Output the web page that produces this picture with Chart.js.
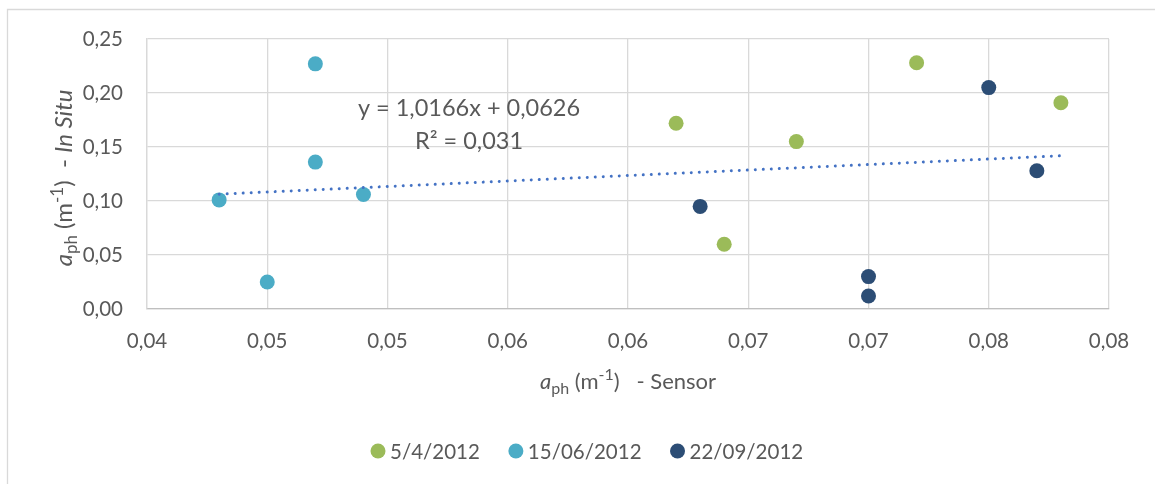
<!DOCTYPE html>
<html>
<head>
<meta charset="utf-8">
<script src="https://cdn.jsdelivr.net/npm/chart.js@4.4.1/dist/chart.umd.min.js"></script>
<style>
  html, body { margin: 0; padding: 0; background: #ffffff; }
  #wrap { width: 1155px; height: 484px; }
</style>
</head>
<body>
<div id="wrap"><canvas id="c" width="1155" height="484"></canvas></div>
<script>
// ---- data ----
const seriesNames = ['5/4/2012', '15/06/2012', '22/09/2012'];
const seriesColors = ['#9BBB59', '#4BACC6', '#2C4D75'];

const x_0504 = [0.062, 0.067, 0.064, 0.072, 0.078];
const y_0504 = [0.172, 0.155, 0.060, 0.228, 0.191];

const x_1506 = [0.043, 0.047, 0.047, 0.045, 0.049];
const y_1506 = [0.101, 0.227, 0.136, 0.025, 0.106];

const x_2209 = [0.063, 0.070, 0.070, 0.075, 0.077];
const y_2209 = [0.095, 0.030, 0.012, 0.205, 0.128];

const trendSlope = 1.0166;
const trendIntercept = 0.0626;
const trendXRange = [0.043, 0.078];
const equationText = 'y = 1,0166x + 0,0626';
const r2Text = 'R² = 0,031';

const xTickValues = [0.04, 0.045, 0.05, 0.055, 0.06, 0.065, 0.07, 0.075, 0.08];
const xTickLabels = ['0,04', '0,05', '0,05', '0,06', '0,06', '0,07', '0,07', '0,08', '0,08'];
const yTickValues = [0, 0.05, 0.10, 0.15, 0.20, 0.25];
const yTickLabels = ['0,00', '0,05', '0,10', '0,15', '0,20', '0,25'];

// ---- helpers ----
const FONT = 'Lato, "Open Sans", sans-serif';
const TXT = '#595959';
const pts = (xs, ys) => xs.map((x, i) => ({ x: x, y: ys[i] }));

const trendData = trendXRange.map(x => ({ x: x, y: trendSlope * x + trendIntercept }));

function setFont(ctx, p, big, small) {
  const size = (p.sub || p.sup) ? small : big;
  ctx.font = (p.italic ? 'italic ' : '') + size + 'px ' + FONT;
}
function drawRich(ctx, parts, x, y, big, small) {
  let cx = x;
  for (const p of parts) {
    setFont(ctx, p, big, small);
    const dy = p.sub ? 5 : (p.sup ? -9 : 0);
    ctx.fillText(p.t, cx, y + dy);
    cx += ctx.measureText(p.t).width;
  }
  return cx - x;
}
function richWidth(ctx, parts, big, small) {
  let w = 0;
  for (const p of parts) {
    setFont(ctx, p, big, small);
    w += ctx.measureText(p.t).width;
  }
  return w;
}

const yTitleParts = [
  { t: 'a', italic: true }, { t: 'ph', sub: true }, { t: ' (m' }, { t: '-1', sup: true },
  { t: ')  - ' }, { t: 'In Situ', italic: true }
];
const xTitleParts = [
  { t: 'a', italic: true }, { t: 'ph', sub: true }, { t: ' (m' }, { t: '-1', sup: true },
  { t: ')   - Sensor' }
];

const decorPlugin = {
  id: 'decor',
  beforeDraw(chart) {
    const ctx = chart.ctx;
    ctx.save();
    ctx.fillStyle = '#ffffff';
    ctx.fillRect(0, 0, chart.width, chart.height);
    ctx.strokeStyle = '#d9d9d9';
    ctx.lineWidth = 1.3;
    ctx.beginPath();
    ctx.moveTo(7.5, chart.height);
    ctx.lineTo(7.5, 9.5);
    ctx.lineTo(chart.width, 9.5);
    ctx.stroke();
    ctx.restore();
  },
  afterDraw(chart) {
    const ctx = chart.ctx;
    const a = chart.chartArea;
    ctx.save();
    ctx.fillStyle = TXT;
    ctx.textBaseline = 'alphabetic';

    // equation
    ctx.font = '23.5px ' + FONT;
    ctx.textAlign = 'center';
    const ex = a.left + 322;
    ctx.fillText(equationText, ex, a.top + 77);
    ctx.fillText(r2Text, ex, a.top + 110);
    ctx.textAlign = 'left';

    // x title
    const xw = richWidth(ctx, xTitleParts, 22, 16);
    drawRich(ctx, xTitleParts, (a.left + a.right) / 2 - xw / 2, 389, 22, 16);

    // y title (rotated)
    const yw = richWidth(ctx, yTitleParts, 24, 17);
    ctx.save();
    ctx.translate(72, (a.top + a.bottom) / 2 + 4);
    ctx.rotate(-Math.PI / 2);
    drawRich(ctx, yTitleParts, -yw / 2, 0, 24, 17);
    ctx.restore();

    // legend
    ctx.font = '20.5px ' + FONT;
    ctx.textBaseline = 'middle';
    let lx = 370;
    const ly = 451;
    chart.data.datasets.forEach(ds => {
      if (!ds.inLegend) return;
      ctx.fillStyle = ds.backgroundColor;
      ctx.beginPath();
      ctx.arc(lx + 8, ly, 7.5, 0, Math.PI * 2);
      ctx.fill();
      ctx.fillStyle = TXT;
      ctx.fillText(ds.label, lx + 20, ly + 1);
      lx += 20 + ctx.measureText(ds.label).width + 28;
    });
    ctx.restore();
  }
};

const scatterDs = (i, xs, ys) => ({
  type: 'scatter',
  label: seriesNames[i],
  data: pts(xs, ys),
  backgroundColor: seriesColors[i],
  borderColor: seriesColors[i],
  borderWidth: 0,
  pointRadius: 7.5,
  pointHoverRadius: 7.5,
  inLegend: true,
  order: 1
});

new Chart(document.getElementById('c'), {
  type: 'scatter',
  data: {
    datasets: [
      scatterDs(0, x_0504, y_0504),
      scatterDs(1, x_1506, y_1506),
      scatterDs(2, x_2209, y_2209),
      {
        type: 'line',
        label: 'trend',
        data: trendData,
        borderColor: '#4472C4',
        borderWidth: 3,
        borderDash: [0.01, 8],
        borderCapStyle: 'round',
        pointRadius: 0,
        fill: false,
        showLine: true,
        inLegend: false,
        order: 0
      }
    ]
  },
  options: {
    responsive: false,
    animation: false,
    events: [],
    layout: { padding: { left: 0, top: 39, right: 46, bottom: 0 } },
    plugins: {
      legend: { display: false },
      tooltip: { enabled: false },
      title: { display: false }
    },
    scales: {
      x: {
        type: 'linear',
        min: 0.04, max: 0.08,
        afterBuildTicks: s => { s.ticks = xTickValues.map(v => ({ value: v })); },
        afterFit: s => { s.height = 175; },
        ticks: {
          callback: (v, i) => xTickLabels[i],
          font: { family: FONT, size: 20.5 },
          color: TXT,
          padding: 20,
          maxRotation: 0,
          autoSkip: false
        },
        grid: { color: '#d9d9d9', lineWidth: 1.3, drawTicks: false, tickLength: 0 },
        border: { color: '#bfbfbf', width: 1.3 }
      },
      y: {
        type: 'linear',
        min: 0, max: 0.25,
        afterBuildTicks: s => { s.ticks = yTickValues.map(v => ({ value: v })); },
        afterFit: s => { s.width = 147; },
        ticks: {
          callback: (v, i) => yTickLabels[i],
          font: { family: FONT, size: 20.5 },
          color: TXT,
          padding: 24,
          autoSkip: false
        },
        grid: { color: '#d9d9d9', lineWidth: 1.3, drawTicks: false, tickLength: 0 },
        border: { color: '#d9d9d9', width: 1.3 }
      }
    }
  },
  plugins: [decorPlugin]
});
</script>
</body>
</html>
